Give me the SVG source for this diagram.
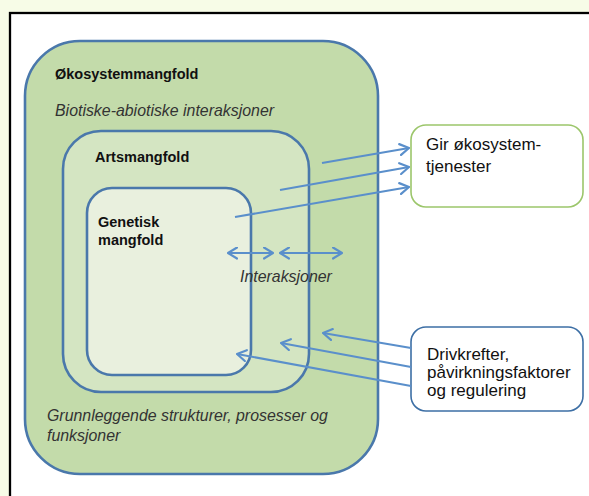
<svg xmlns="http://www.w3.org/2000/svg" width="589" height="496" viewBox="0 0 589 496">
  <defs>
    <marker id="arrow" viewBox="0 0 11 13" refX="10" refY="6.5" markerWidth="11" markerHeight="13" markerUnits="userSpaceOnUse" orient="auto-start-reverse">
      <path d="M1,1 L10,6.5 L1,12" fill="none" stroke="#5A8FCB" stroke-width="2.2" stroke-linecap="round" stroke-linejoin="round"/>
    </marker>
    <style>
      .frame { fill: #ffffff; stroke: #000000; stroke-width: 2.3; }
      .level { stroke: #4A78AB; stroke-width: 2.6; }
      .title { font-family: "Liberation Sans", Arial, sans-serif; font-weight: bold; font-size: 14.5px; fill: #111111; }
      .note { font-family: "Liberation Sans", Arial, sans-serif; font-style: italic; font-size: 15.9px; fill: #333333; }
      .box-text { font-family: "Liberation Sans", Arial, sans-serif; font-size: 17px; fill: #111111; }
      .link { fill: none; stroke: #5A8FCB; stroke-width: 2; }
    </style>
  </defs>

  <!-- page background and frame -->
  <rect x="0" y="0" width="589" height="496" fill="#F7FCE7"/>
  <rect class="frame" x="10" y="13" width="600" height="500"/>

  <!-- nested diversity levels -->
  <g id="okosystemmangfold">
    <rect class="level" x="25" y="41" width="353" height="433" rx="55" ry="55" fill="#C3DBAA"/>
    <text class="title" x="55" y="79">Økosystemmangfold</text>
    <text class="note" x="55" y="116">Biotiske-abiotiske interaksjoner</text>
    <text class="note" x="47" y="421">Grunnleggende strukturer, prosesser og</text>
    <text class="note" x="47" y="441">funksjoner</text>
  </g>

  <g id="artsmangfold">
    <rect class="level" x="63" y="131" width="246" height="261" rx="38" ry="38" fill="#D4E5C2"/>
    <text class="title" x="95" y="162">Artsmangfold</text>
  </g>

  <g id="genetisk-mangfold">
    <rect class="level" x="87" y="188" width="164" height="187" rx="25" ry="25" fill="#E9F0DE"/>
    <text class="title" x="98" y="227">Genetisk</text>
    <text class="title" x="98" y="245">mangfold</text>
  </g>

  <text class="note" x="240" y="282" font-size="15.4">Interaksjoner</text>

  <!-- outcome and driver boxes -->
  <g id="okosystemtjenester">
    <rect x="411" y="125" width="172" height="82" rx="15" ry="15" fill="#ffffff" stroke="#9CC66B" stroke-width="1.6"/>
    <text class="box-text" x="426" y="150">Gir økosystem-</text>
    <text class="box-text" x="426" y="172">tjenester</text>
  </g>

  <g id="drivkrefter">
    <rect x="411" y="327" width="172" height="84" rx="15" ry="15" fill="#ffffff" stroke="#3D6FA5" stroke-width="1.6"/>
    <text class="box-text" x="427" y="360">Drivkrefter,</text>
    <text class="box-text" x="427" y="378">påvirkningsfaktorer</text>
    <text class="box-text" x="427" y="396">og regulering</text>
  </g>

  <!-- connectors -->
  <g id="connectors">
    <line class="link" x1="322" y1="163" x2="409" y2="148" marker-end="url(#arrow)"/>
    <line class="link" x1="280" y1="190" x2="409" y2="167" marker-end="url(#arrow)"/>
    <line class="link" x1="235" y1="217" x2="409" y2="187" marker-end="url(#arrow)"/>

    <line class="link" x1="228" y1="253" x2="273" y2="253" marker-start="url(#arrow)" marker-end="url(#arrow)"/>
    <line class="link" x1="280" y1="253" x2="342" y2="253" marker-start="url(#arrow)" marker-end="url(#arrow)"/>

    <line class="link" x1="411" y1="348" x2="323" y2="333" marker-end="url(#arrow)"/>
    <line class="link" x1="411" y1="367" x2="281" y2="343" marker-end="url(#arrow)"/>
    <line class="link" x1="411" y1="386" x2="237" y2="354" marker-end="url(#arrow)"/>
  </g>
</svg>
